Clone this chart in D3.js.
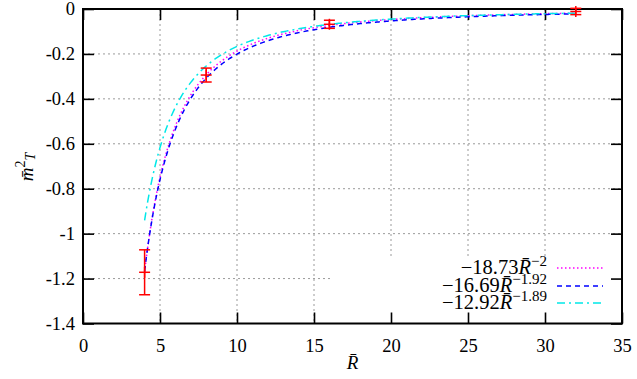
<!DOCTYPE html>
<html>
<head>
<meta charset="utf-8">
<script src="https://cdn.jsdelivr.net/npm/d3@7"></script>
<style>
  body { margin: 0; background: #fff; }
</style>
</head>
<body>
<div id="chart"></div>
<script>
// data
var rValues = [4, 8, 16, 32];
var m2Values = [-1.172, -0.294, -0.068, -0.011];
var m2Errors = [0.100, 0.031, 0.018, 0.014];

// fitted curves: -a * R^-b (from the legend)
var fitCoef = [18.73, 16.69, 12.92];
var fitExp = [2, 1.92, 1.89];
var fitColors = ["#ff00ff", "#0000ff", "#00e8e8"];
var fitDash = ["1.5,2.5", "5,4", "8,4,2,4"];
var fitCoefLabels = ["18.73", "16.69", "12.92"];
var fitExpLabels = ["\u22122", "\u22121.92", "\u22121.89"];

var xTicks = [0, 5, 10, 15, 20, 25, 30, 35];
var yTicks = [0, -0.2, -0.4, -0.6, -0.8, -1, -1.2, -1.4];

var FONT = "'Liberation Serif', 'DejaVu Serif', serif";

var svgWidth = 637;
var svgHeight = 379;
var margin = { top: 9, right: 15, bottom: 55.5, left: 83 };
var width = svgWidth - margin.left - margin.right;
var height = svgHeight - margin.top - margin.bottom;

var svg = d3.select("#chart")
  .append("svg")
  .attr("width", svgWidth)
  .attr("height", svgHeight)
  .style("font-family", FONT);

var chartGroup = svg.append("g")
  .attr("transform", `translate(${margin.left}, ${margin.top})`);

var xScale = d3.scaleLinear().domain([0, 35]).range([0, width]);
var yScale = d3.scaleLinear().domain([-1.4, 0]).range([height, 0]);

// grid
chartGroup.append("g")
  .selectAll("line")
  .data(xTicks.slice(1, -1))
  .enter()
  .append("line")
  .attr("x1", d => xScale(d)).attr("x2", d => xScale(d))
  .attr("y1", 0).attr("y2", height)
  .attr("stroke", "#9a9a9a").attr("stroke-width", 1)
  .attr("stroke-dasharray", "2,3");

chartGroup.append("g")
  .selectAll("line")
  .data(yTicks.slice(1, -1))
  .enter()
  .append("line")
  .attr("y1", d => yScale(d)).attr("y2", d => yScale(d))
  .attr("x1", 0).attr("x2", width)
  .attr("stroke", "#9a9a9a").attr("stroke-width", 1)
  .attr("stroke-dasharray", "2,3");

// key area blanks the grid
var keyLeft = 333 - margin.left;
var keyTop = 259 - margin.top;
chartGroup.append("rect")
  .attr("x", keyLeft).attr("y", keyTop)
  .attr("width", width - keyLeft).attr("height", height - keyTop)
  .attr("fill", "#fff");

// axes with inward ticks on all sides
var tickLen = 11;
chartGroup.append("g")
  .attr("transform", `translate(0, ${height})`)
  .call(d3.axisBottom(xScale).tickValues(xTicks).tickSizeInner(-tickLen).tickSizeOuter(0).tickPadding(15)
    .tickFormat(d3.format("d")))
  .call(g => g.select(".domain").remove())
  .call(g => g.selectAll("line").attr("stroke-width", 1.6))
  .call(g => g.selectAll("text").style("font-size", "18.5px").style("font-family", FONT));

chartGroup.append("g")
  .call(d3.axisTop(xScale).tickValues(xTicks).tickSizeInner(-tickLen).tickSizeOuter(0).tickFormat(""))
  .call(g => g.select(".domain").remove())
  .call(g => g.selectAll("line").attr("stroke-width", 1.6));

chartGroup.append("g")
  .call(d3.axisLeft(yScale).tickValues(yTicks).tickSizeInner(-tickLen).tickSizeOuter(0).tickPadding(8)
    .tickFormat(d => d === 0 ? "0" : String(d)))
  .call(g => g.select(".domain").remove())
  .call(g => g.selectAll("line").attr("stroke-width", 1.6))
  .call(g => g.selectAll("text").style("font-size", "18.5px").style("font-family", FONT));

chartGroup.append("g")
  .attr("transform", `translate(${width}, 0)`)
  .call(d3.axisRight(yScale).tickValues(yTicks).tickSizeInner(-tickLen).tickSizeOuter(0).tickFormat(""))
  .call(g => g.select(".domain").remove())
  .call(g => g.selectAll("line").attr("stroke-width", 1.6));

// border
chartGroup.append("rect")
  .attr("width", width).attr("height", height)
  .attr("fill", "none").attr("stroke", "#000").attr("stroke-width", 2);

// fitted curves
var rSamples = d3.range(4, 32.0001, 0.1);
fitCoef.forEach(function(a, i) {
  var line = d3.line()
    .x(r => xScale(r))
    .y(r => yScale(-a * Math.pow(r, -fitExp[i])));
  chartGroup.append("path")
    .datum(rSamples)
    .attr("d", line)
    .attr("fill", "none")
    .attr("stroke", fitColors[i])
    .attr("stroke-width", 1.5)
    .attr("stroke-dasharray", fitDash[i]);
});

// error bars with + markers
var capW = 5.5;
var points = chartGroup.append("g")
  .attr("stroke", "#ff0000")
  .attr("stroke-width", 1.5);
rValues.forEach(function(r, i) {
  var x = xScale(r);
  var y0 = yScale(m2Values[i] + m2Errors[i]);
  var y1 = yScale(m2Values[i] - m2Errors[i]);
  var yc = yScale(m2Values[i]);
  points.append("line").attr("x1", x).attr("x2", x).attr("y1", y0).attr("y2", y1);
  points.append("line").attr("x1", x - capW).attr("x2", x + capW).attr("y1", y0).attr("y2", y0);
  points.append("line").attr("x1", x - capW).attr("x2", x + capW).attr("y1", y1).attr("y2", y1);
  points.append("line").attr("x1", x - capW).attr("x2", x + capW).attr("y1", yc).attr("y2", yc);
  points.append("line").attr("x1", x).attr("x2", x).attr("y1", yc - capW).attr("y2", yc + capW);
});

// legend
var legendRows = [268, 286, 303];
fitCoef.forEach(function(a, i) {
  var ly = legendRows[i] - margin.top;
  var t = chartGroup.append("text")
    .attr("x", 547 - margin.left)
    .attr("y", ly + 6)
    .attr("text-anchor", "end")
    .style("font-family", FONT)
    .style("font-size", "20.5px");
  t.append("tspan").text("\u2212" + fitCoefLabels[i]);
  t.append("tspan").style("font-style", "italic").text("R\u0304");
  t.append("tspan").style("font-size", "15px").attr("dy", -8).text(fitExpLabels[i]);
  chartGroup.append("line")
    .attr("x1", 557 - margin.left).attr("x2", 603 - margin.left)
    .attr("y1", ly).attr("y2", ly)
    .attr("stroke", fitColors[i])
    .attr("stroke-width", 1.5)
    .attr("stroke-dasharray", fitDash[i]);
});

// axis labels
svg.append("text")
  .attr("x", margin.left + width / 2)
  .attr("y", 369)
  .attr("text-anchor", "middle")
  .style("font-family", FONT)
  .style("font-size", "19px")
  .style("font-style", "italic")
  .text("R\u0304");

var yLabel = svg.append("text")
  .attr("transform", "translate(33, 167) rotate(-90)")
  .attr("text-anchor", "middle")
  .style("font-family", FONT)
  .style("font-size", "19px");
yLabel.append("tspan").style("font-style", "italic").text("m\u0304");
yLabel.append("tspan").style("font-size", "14px").attr("dy", -8).text("2");
yLabel.append("tspan").style("font-size", "14px").style("font-style", "italic").attr("dy", 10).text("T");
</script>
</body>
</html>
